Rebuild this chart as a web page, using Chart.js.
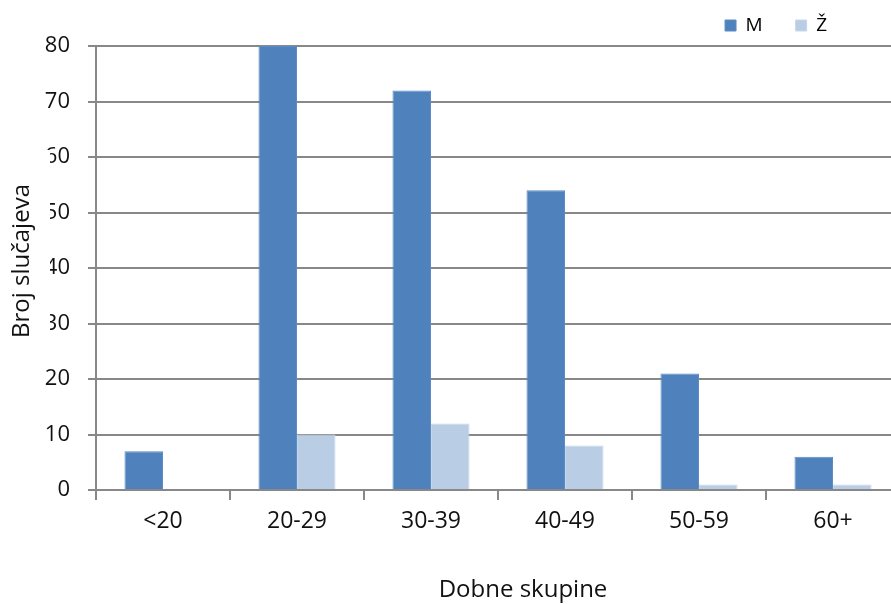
<!DOCTYPE html>
<html>
<head>
<meta charset="utf-8">
<script src="https://cdn.jsdelivr.net/npm/chart.js@4"></script>
<style>
  html, body { margin: 0; padding: 0; background: #fff; overflow: hidden; }
  #wrap { width: 900px; height: 604px; }
</style>
</head>
<body>
<div id="wrap"><canvas id="dobChart" width="900" height="604"></canvas></div>
<script>
// dobne skupine i broj slučajeva po spolu
const skupine = ['<20', '20-29', '30-39', '40-49', '50-59', '60+'];
const muski = [7, 80, 72, 54, 21, 6];
const zenski = [0, 10, 12, 8, 1, 1];
const yTicks = [0, 10, 20, 30, 40, 50, 60, 70, 80];

const fontFam = '"Open Sans", "DejaVu Sans", sans-serif';

// naslovi osi (y naslov ima bijelu pozadinu koja prekriva dio oznaka)
const nasloviOsi = {
  id: 'nasloviOsi',
  afterDraw(chart) {
    const ctx = chart.ctx;
    ctx.save();
    ctx.fillStyle = '#fff';
    ctx.fillRect(0, 150, 50, 196);
    ctx.fillStyle = '#111';
    ctx.font = '24px ' + fontFam;
    ctx.textAlign = 'center';
    ctx.textBaseline = 'middle';
    ctx.translate(22, 261);
    ctx.rotate(-Math.PI / 2);
    ctx.fillText('Broj slučajeva', 0, 0);
    ctx.restore();

    ctx.save();
    ctx.fillStyle = '#111';
    ctx.font = '24px ' + fontFam;
    ctx.textAlign = 'center';
    ctx.textBaseline = 'middle';
    ctx.fillText('Dobne skupine', 523, 590);
    ctx.restore();
  }
};

// legenda: fiksna visina i pomak gore-lijevo
const legendaPomak = {
  id: 'legendaPomak',
  beforeLayout(chart) {
    const lg = chart.legend;
    if (lg && !lg._patched) {
      const origFit = lg.fit;
      lg.fit = function () {
        origFit.call(this);
        this.height = 46;
      };
      lg._patched = true;
    }
  },
  afterLayout(chart) {
    const lg = chart.legend;
    if (!lg) return;
    lg.top -= 17;
    lg.right -= 40;
    lg.left -= 40;
  }
};

new Chart(document.getElementById('dobChart'), {
  type: 'bar',
  data: {
    labels: skupine,
    datasets: [
      { label: 'M', data: muski, backgroundColor: '#4F81BD', borderColor: '#5B8CC6', borderWidth: 1 },
      { label: 'Ž', data: zenski, backgroundColor: '#B9CDE5', borderColor: '#C6D7EC', borderWidth: 1 }
    ]
  },
  options: {
    responsive: false,
    animation: false,
    categoryPercentage: 0.575,
    barPercentage: 1,
    layout: { padding: { top: 0, right: 0, bottom: 0, left: 0 } },
    plugins: {
      legend: {
        position: 'top',
        align: 'end',
        labels: {
          boxWidth: 11,
          boxHeight: 11,
          padding: 33,
          color: '#000',
          font: { family: '"Liberation Sans Narrow", "Open Sans", sans-serif', size: 19 }
        }
      },
      tooltip: { enabled: false }
    },
    scales: {
      x: {
        afterFit(scale) { scale.height = 114; },
        grid: {
          offset: true,
          drawOnChartArea: false,
          color: '#888',
          lineWidth: 2,
          tickLength: 10
        },
        border: { color: '#888', width: 2 },
        ticks: {
          color: '#111',
          padding: 8,
          maxRotation: 0,
          font: { family: fontFam, size: 23 }
        }
      },
      y: {
        min: 0,
        max: 80,
        afterFit(scale) { scale.width = 96; },
        afterBuildTicks(scale) { scale.ticks = yTicks.map(v => ({ value: v })); },
        grid: { color: '#888', lineWidth: 2, tickLength: 8 },
        border: { color: '#888', width: 2 },
        ticks: {
          color: '#111',
          padding: 18,
          font: { family: fontFam, size: 22 }
        }
      }
    }
  },
  plugins: [nasloviOsi, legendaPomak]
});
</script>
</body>
</html>
